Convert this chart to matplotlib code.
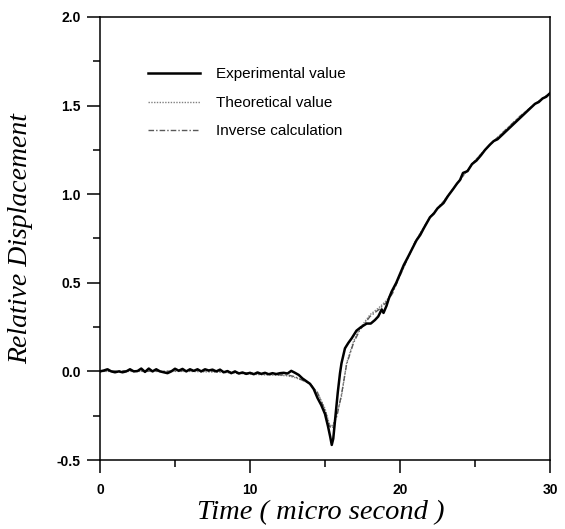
import numpy as np
import matplotlib.pyplot as plt
from matplotlib.ticker import MultipleLocator

exp_t = [0.0, 0.25, 0.5, 0.75, 1.0, 1.25, 1.5, 1.75, 2.0, 2.25, 2.5, 2.75, 3.0, 3.25,
         3.5, 3.75, 4.0, 4.25, 4.5, 4.75, 5.0, 5.25, 5.5, 5.75, 6.0, 6.25, 6.5, 6.75,
         7.0, 7.25, 7.5, 7.75, 8.0, 8.25, 8.5, 8.75, 9.0, 9.25, 9.5, 9.75, 10.0, 10.25,
         10.5, 10.75, 11.0, 11.25, 11.5, 11.75, 12.0, 12.25, 12.5, 12.75, 13.0,
         13.25, 13.5, 13.75, 14.0, 14.25, 14.5, 14.75, 15.0, 15.2, 15.35, 15.45, 15.55,
         15.7, 15.85, 16.0, 16.1, 16.33, 16.55, 16.78, 17.1, 17.4, 17.78, 18.05, 18.33,
         18.55, 18.78, 18.9, 19.1, 19.25, 19.44, 19.75, 20.0, 20.25, 20.56, 20.8, 21.1,
         21.35, 21.6, 21.8, 22.0, 22.25, 22.5, 22.9, 23.2, 23.55, 23.8, 24.0, 24.2,
         24.5, 24.8, 25.1, 25.4, 25.67, 26.0, 26.25, 26.5, 26.75, 27.0,
         27.25, 27.5, 27.75, 28.0, 28.25, 28.5, 28.75, 29.0, 29.25, 29.5, 29.75, 30.0]
exp_y = [0.0, 0.005, 0.012, 0.0, -0.005, 0.0, -0.005, 0.0, 0.012, 0.0, 0.002, 0.016,
         -0.003, 0.016, 0.0, 0.012, 0.0, -0.005, -0.01, 0.0, 0.015, 0.004, 0.014, 0.0,
         0.012, 0.003, 0.012, 0.0, 0.012, 0.005, 0.01, 0.0, 0.01, -0.005, 0.002, -0.01,
         0.0, -0.012, -0.006, -0.014, -0.008, -0.016, -0.006, -0.014, -0.008, -0.016,
         -0.01, -0.015, -0.01, -0.008, -0.012, 0.003, -0.008,
         -0.02, -0.04, -0.055, -0.07, -0.1, -0.15, -0.19, -0.24, -0.31, -0.37, -0.415,
         -0.38, -0.25, -0.12, -0.01, 0.046, 0.13, 0.16, 0.187, 0.23, 0.25, 0.27, 0.27,
         0.29, 0.31, 0.35, 0.33, 0.37, 0.41, 0.45, 0.5, 0.55, 0.6, 0.65, 0.69, 0.74,
         0.77, 0.81, 0.84, 0.87, 0.89, 0.92, 0.95, 0.99, 1.03, 1.06, 1.08, 1.12,
         1.13, 1.17, 1.19, 1.22, 1.25, 1.28, 1.30, 1.31, 1.33, 1.35,
         1.37, 1.39, 1.41, 1.43, 1.45, 1.47, 1.49, 1.51, 1.52, 1.54, 1.55, 1.57]

# Theoretical value
th_t = [0, 2, 4, 6, 8, 10, 11, 12, 12.5, 13, 13.5, 14, 14.5, 15, 15.3, 15.5, 15.8,
        16.1, 16.44, 16.9, 17.3, 18.0, 18.6, 19.1, 19.5, 20, 21, 22, 23, 24, 25,
        26, 27, 28, 29, 30]
th_y = [0, 0, 0, 0, -0.005, -0.015, -0.02, -0.022, -0.025, -0.035, -0.05, -0.07, -0.12,
        -0.21, -0.30, -0.31, -0.24, -0.14, 0.046, 0.17, 0.24, 0.32, 0.36, 0.40,
        0.45, 0.54, 0.73, 0.87, 0.97, 1.08, 1.19, 1.28, 1.36, 1.44, 1.51, 1.57]

# Inverse calculation
inv_t = [0, 2, 4, 6, 8, 10, 11, 12, 12.5, 13, 13.5, 14, 14.5, 15, 15.3, 15.5, 15.8,
         16.1, 16.44, 16.9, 17.3, 18.0, 18.6, 19.1, 19.5, 20, 21, 22, 23, 24, 25,
         26, 27, 28, 29, 30]
inv_y = [0, 0.004, 0, 0.004, 0, -0.01, -0.015, -0.02, -0.02, -0.03, -0.05, -0.07,
         -0.12, -0.22, -0.31, -0.32, -0.25, -0.13, 0.04, 0.16, 0.23, 0.31, 0.35, 0.39,
         0.44, 0.54, 0.73, 0.87, 0.97, 1.08, 1.19, 1.28, 1.36, 1.44, 1.51, 1.57]

fig = plt.figure(figsize=(5.65, 5.29), dpi=100)
ax = fig.add_axes([100 / 565, 1 - 460 / 529, 450 / 565, 443 / 529])

ax.plot(th_t, th_y, color='0.5', linestyle=(0, (1, 1)), linewidth=1.0, label='Theoretical value')
ax.plot(inv_t, inv_y, color='0.35', linestyle=(0, (4, 1.5, 1, 1.5)), linewidth=1.0, label='Inverse calculation')
ax.plot(exp_t, exp_y, color='black', linewidth=1.8, label='Experimental value')

ax.set_xlim(0, 30)
ax.set_ylim(-0.5, 2.0)
ax.xaxis.set_major_locator(MultipleLocator(10))
ax.xaxis.set_minor_locator(MultipleLocator(5))
ax.yaxis.set_major_locator(MultipleLocator(0.5))
ax.yaxis.set_minor_locator(MultipleLocator(0.25))
ax.yaxis.set_major_formatter(plt.FormatStrFormatter('%.1f'))
ax.tick_params(which='major', direction='out', length=9.4, width=1.1, labelsize=10)
ax.tick_params(which='minor', direction='out', length=5, width=1.1)
ax.tick_params(axis='x', which='major', pad=7)
ax.tick_params(axis='y', which='major', pad=4.5)
for lab in ax.get_xticklabels() + ax.get_yticklabels():
    lab.set_family('Liberation Sans')
    lab.set_fontweight('bold')
for sp in ax.spines.values():
    sp.set_linewidth(1.1)

ax.set_xlabel('Time ( micro second )', family='Liberation Serif', style='italic', fontsize=20.5)
ax.xaxis.label.set_va('baseline')
ax.xaxis.set_label_coords(0.49, (460 - 519) / 443)
ax.set_ylabel('Relative Displacement', family='Liberation Serif', style='italic', fontsize=20)
ax.yaxis.set_label_coords((33 - 100) / 450, 0.5)

handles, labels = ax.get_legend_handles_labels()
order = [2, 0, 1]
ax.legend([handles[i] for i in order], [labels[i] for i in order], loc='upper left',
          bbox_to_anchor=(0.094, 0.9), frameon=False, handlelength=3.4, handletextpad=1.0,
          labelspacing=0.95, borderaxespad=0, prop={'family': 'Liberation Sans', 'size': 11})

fig.savefig('out.png', dpi=100)
